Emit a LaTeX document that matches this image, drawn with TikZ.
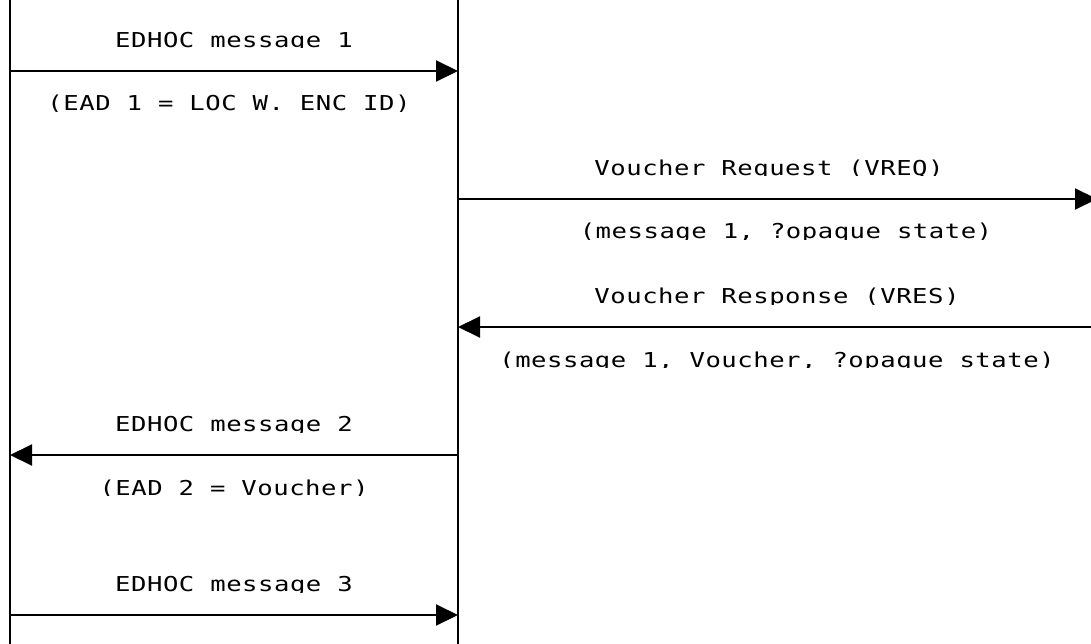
\documentclass[tikz,border=0pt]{standalone}
\usepackage{fontspec}
\newfontfamily\msgfont{DejaVu Sans Mono}[FakeStretch=1.25,LetterSpace=2.5]
\usetikzlibrary{arrows.meta}

% label whose glyphs are cut off at the baseline
\newcommand{\cutlabel}[4]{%
  \begin{scope}
    \clip (#2-320,#3-30) rectangle (#2+320,#3+0.5);
    \node[lbl] (#1) at (#2,#3) {#4};
  \end{scope}}

\tikzset{
  lifeline/.style={line width=1.4pt},
  msg/.style={line width=2pt, -{Triangle[length=22pt,width=21pt]}},
  lbl/.style={anchor=base, inner sep=0pt, font=\msgfont\fontsize{20.5}{21}\selectfont},
}

\begin{document}
\begin{tikzpicture}[x=1pt,y=-1pt]
\useasboundingbox (0,0) rectangle (1091,644);
\clip (0,0) rectangle (1091,644);

% lifelines
\coordinate (Ltop) at (10,-2);   \coordinate (Lbot) at (10,646);
\coordinate (Mtop) at (458,-2);  \coordinate (Mbot) at (458,646);
\draw[lifeline] (Ltop) -- (Lbot);
\draw[lifeline] (Mtop) -- (Mbot);

% message end points
\coordinate (l1) at (10,71);   \coordinate (m1) at (458,71);
\coordinate (m2) at (458,199); \coordinate (r2) at (1097,199);
\coordinate (r3) at (1100,327); \coordinate (m3) at (458,327);
\coordinate (m4) at (458,455); \coordinate (l4) at (10,455);
\coordinate (l5) at (10,615);  \coordinate (m5) at (458,615);

\draw[msg] (l1) -- (m1);
\draw[msg] (m2) -- (r2);
\draw[msg] (r3) -- (m3);
\draw[msg] (m4) -- (l4);
\draw[msg] (l5) -- (m5);

% labels
\cutlabel{t1}{234}{47.5}{EDHOC message 1}
\cutlabel{t2}{229}{111}{(EAD 1 = LOC W. ENC ID)}
\cutlabel{t3}{769}{175.5}{Voucher Request (VREQ)}
\cutlabel{t4}{786}{239}{(message 1, ?opaque state)}
\cutlabel{t5}{777}{303.5}{Voucher Response (VRES)}
\cutlabel{t6}{777}{367}{(message 1, Voucher, ?opaque state)}
\cutlabel{t7}{234}{431.5}{EDHOC message 2}
\cutlabel{t8}{234}{495}{(EAD 2 = Voucher)}
\cutlabel{t9}{234}{591.5}{EDHOC message 3}
\end{tikzpicture}
\end{document}
